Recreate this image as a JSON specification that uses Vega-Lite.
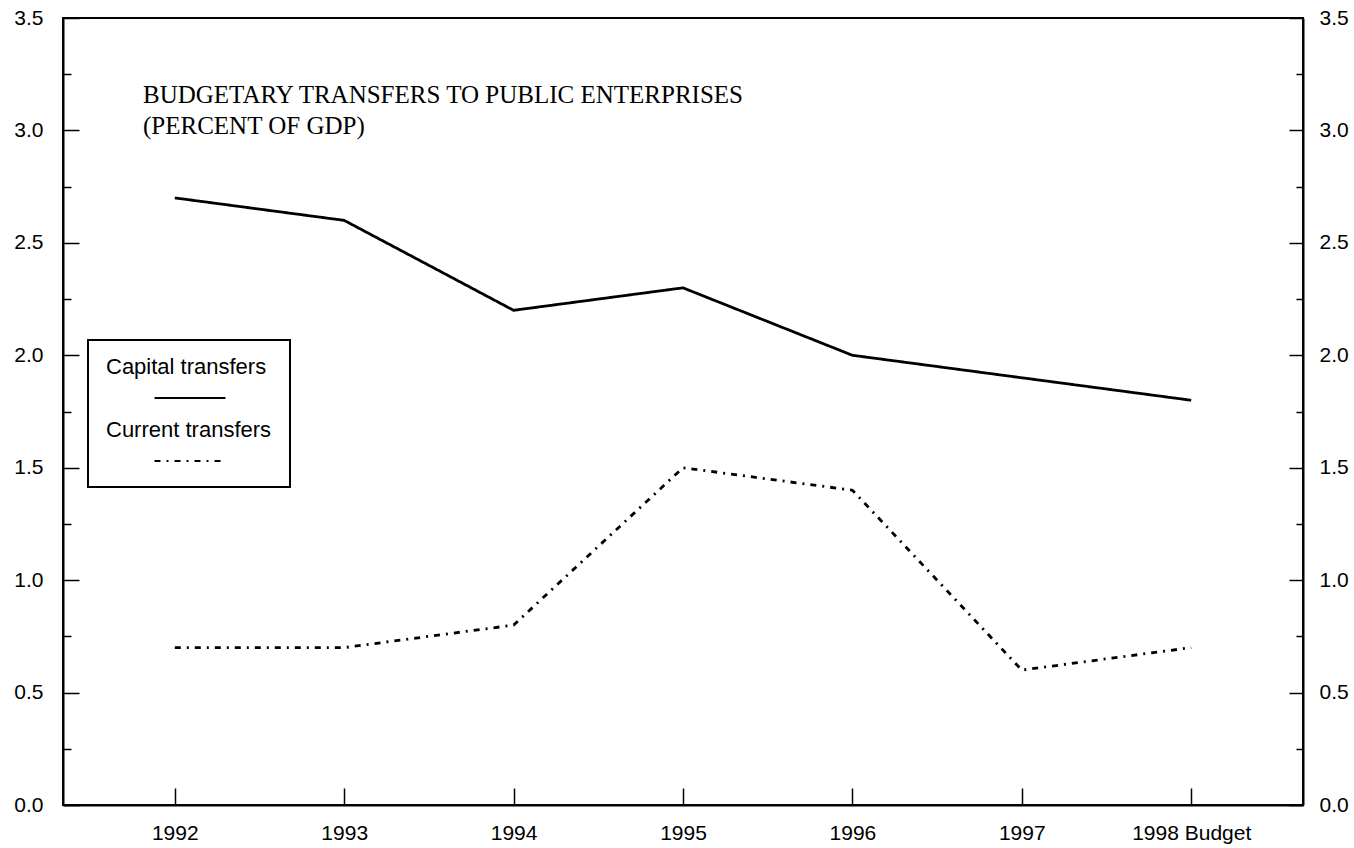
{
  "$schema": "https://vega.github.io/schema/vega-lite/v6.json",
  "autosize": "none",
  "padding": {"left": 63, "top": 18, "right": 51, "bottom": 43},
  "width": 1240,
  "height": 787,
  "background": "white",
  "title": {
    "text": ["BUDGETARY TRANSFERS TO PUBLIC ENTERPRISES", "(PERCENT OF GDP)"],
    "anchor": "start",
    "frame": "group",
    "orient": "top",
    "offset": -132,
    "dx": 80,
    "font": "Liberation Serif",
    "fontSize": 25,
    "fontWeight": "normal",
    "color": "black",
    "lineHeight": 31
  },
  "data": {
    "values": [
      {"year": "1992", "series": "Capital transfers", "value": 2.7},
      {"year": "1993", "series": "Capital transfers", "value": 2.6},
      {"year": "1994", "series": "Capital transfers", "value": 2.2},
      {"year": "1995", "series": "Capital transfers", "value": 2.3},
      {"year": "1996", "series": "Capital transfers", "value": 2.0},
      {"year": "1997", "series": "Capital transfers", "value": 1.9},
      {"year": "1998 Budget", "series": "Capital transfers", "value": 1.8},
      {"year": "1992", "series": "Current transfers", "value": 0.7},
      {"year": "1993", "series": "Current transfers", "value": 0.7},
      {"year": "1994", "series": "Current transfers", "value": 0.8},
      {"year": "1995", "series": "Current transfers", "value": 1.5},
      {"year": "1996", "series": "Current transfers", "value": 1.4},
      {"year": "1997", "series": "Current transfers", "value": 0.6},
      {"year": "1998 Budget", "series": "Current transfers", "value": 0.7}
    ]
  },
  "layer": [
    {
      "mark": {"type": "line", "color": "black", "strokeWidth": 2.8},
      "encoding": {
        "x": {
          "field": "year", "type": "ordinal", "sort": null,
          "scale": {"type": "point", "padding": 0.66},
          "axis": {
            "title": null, "labelAngle": 0, "orient": "bottom",
            "tickSize": -17, "labelPadding": 34,
            "labelFont": "Liberation Sans", "labelFontSize": 21, "labelColor": "black",
            "domainColor": "black", "domainWidth": 2, "tickColor": "black", "tickWidth": 1.5,
            "grid": false
          }
        },
        "y": {
          "field": "value", "type": "quantitative",
          "scale": {"domain": [0, 3.5], "nice": false, "zero": true},
          "axis": {
            "title": null, "orient": "left", "grid": false,
            "values": [0, 0.25, 0.5, 0.75, 1, 1.25, 1.5, 1.75, 2, 2.25, 2.5, 2.75, 3, 3.25, 3.5],
            "labelExpr": "datum.value % 0.5 == 0 ? format(datum.value, '.1f') : ''",
            "tickSize": {"condition": {"test": "datum.value % 0.5 == 0", "value": -16}, "value": -8},
            "labelPadding": 36,
            "labelFont": "Liberation Sans", "labelFontSize": 21, "labelColor": "black",
            "domainColor": "black", "domainWidth": 2, "tickColor": "black", "tickWidth": 1.5,
            "labelFlush": false, "labelOverlap": false
          }
        },
        "strokeDash": {
          "field": "series", "type": "nominal",
          "scale": {"domain": ["Capital transfers", "Current transfers"], "range": [[1, 0], [6, 6, 2, 6]]},
          "legend": {
            "orient": "none", "legendX": 25, "legendY": 322,
            "title": " ", "titleFontSize": 10, "titlePadding": 22,
            "symbolType": "stroke", "symbolSize": 5041, "symbolStrokeWidth": 2, "symbolStrokeColor": "black",
            "symbolOffset": 47.5,
            "labelFont": "Liberation Sans", "labelFontSize": 22, "labelColor": "black",
            "labelAlign": "left", "labelOffset": -120.5, "labelLimit": 0,
            "clipHeight": 16, "rowPadding": 13,
            "strokeColor": "black", "padding": 18,
            "encode": {
              "labels": {"update": {"dy": {"value": -31}}},
              "legend": {"update": {"strokeWidth": {"value": 2}}}
            }
          }
        }
      }
    },
    {
      "mark": {"type": "line", "opacity": 0},
      "encoding": {
        "x": {"field": "year", "type": "ordinal", "sort": null},
        "y": {
          "field": "value", "type": "quantitative",
          "axis": {
            "title": null, "orient": "right", "grid": false,
            "values": [0, 0.25, 0.5, 0.75, 1, 1.25, 1.5, 1.75, 2, 2.25, 2.5, 2.75, 3, 3.25, 3.5],
            "labelExpr": "datum.value % 0.5 == 0 ? format(datum.value, '.1f') : ''",
            "tickSize": {"condition": {"test": "datum.value % 0.5 == 0", "value": -14}, "value": -7},
            "labelPadding": 30,
            "labelFont": "Liberation Sans", "labelFontSize": 21, "labelColor": "black",
            "domainColor": "black", "domainWidth": 2, "tickColor": "black", "tickWidth": 1.5,
            "labelFlush": false, "labelOverlap": false
          }
        },
        "detail": {"field": "series"}
      }
    }
  ],
  "resolve": {"axis": {"y": "independent"}},
  "config": {
    "view": {"stroke": "black", "strokeWidth": 2}
  }
}
